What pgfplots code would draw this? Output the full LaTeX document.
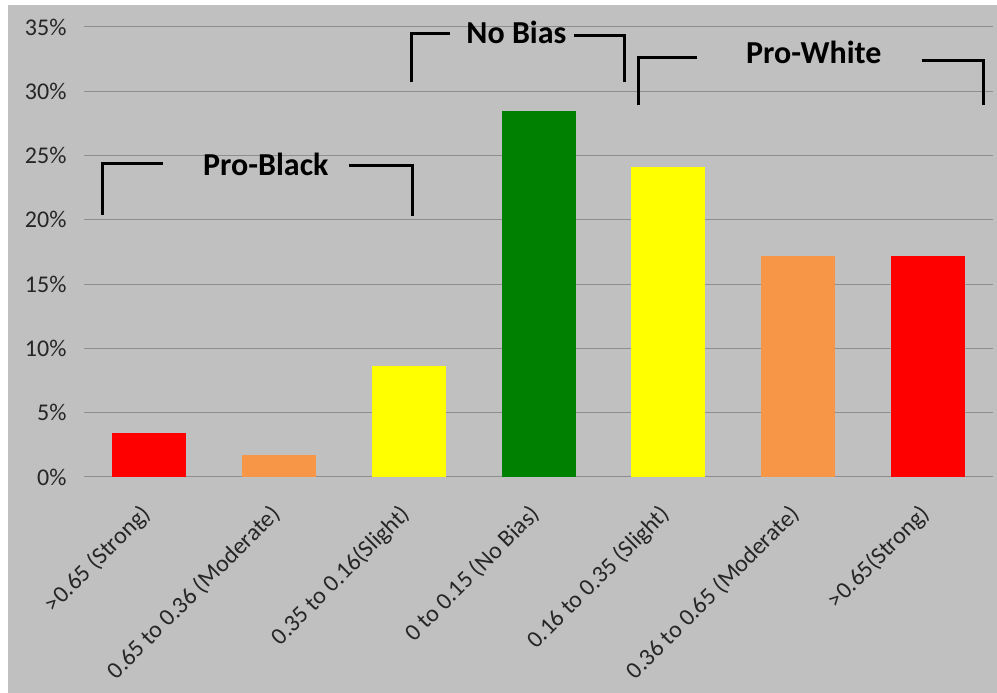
\documentclass[border=0pt]{standalone}
\usepackage{pgfplots}
\pgfplotsset{compat=1.18}
\usepackage{fontspec}
\setmainfont{Carlito}
\definecolor{panel}{HTML}{C0C0C0}
\definecolor{gridc}{HTML}{8E8E8E}
\definecolor{cred}{HTML}{FF0000}
\definecolor{corange}{HTML}{F79646}
\definecolor{cyellow}{HTML}{FFFF00}
\definecolor{cgreen}{HTML}{008000}
\begin{document}
\begin{tikzpicture}[x=1pt,y=1pt]
\fill[white] (-84,-216) rectangle (913,477);
\fill[panel] (-76,-216) rectangle (913,472);
\useasboundingbox (-84,-216) rectangle (913,477);
\begin{axis}[
  at={(0,0)}, anchor=south west,
  scale only axis, width=909pt, height=450pt,
  xmin=-0.5, xmax=6.5, ymin=0, ymax=35,
  axis line style={draw=none},
  major tick length=0pt,
  ymajorgrids, grid style={color=gridc, line width=1pt},
  ytick={0,5,...,35},
  yticklabel={\pgfmathprintnumber{\tick}\%},
  /pgf/number format/assume math mode=true,
  yticklabel style={font=\fontsize{24}{28}\selectfont, xshift=-14pt, text=black!85},
  xtick={0,...,6},
  xticklabels={{>0.65 (Strong)},{0.65 to 0.36 (Moderate)},{0.35 to 0.16(Slight)},{0 to 0.15 (No Bias)},{0.16 to 0.35 (Slight)},{0.36 to 0.65 (Moderate)},{>0.65(Strong)}},
  xticklabel style={font=\fontsize{24}{28}\selectfont, xshift=-10pt, yshift=-21pt, rotate=45, anchor=north east, text=black!85},
  clip=false,
  ybar, bar width=74pt,
]
\addplot[fill=cred, draw=none, bar shift=0pt] coordinates {(0,3.4)};
\addplot[fill=corange, draw=none, bar shift=0pt] coordinates {(1,1.7)};
\addplot[fill=cyellow, draw=none, bar shift=0pt] coordinates {(2,8.6)};
\addplot[fill=cgreen, draw=none, bar shift=0pt] coordinates {(3,28.5)};
\addplot[fill=cyellow, draw=none, bar shift=0pt] coordinates {(4,24.1)};
\addplot[fill=corange, draw=none, bar shift=0pt] coordinates {(5,17.2)};
\addplot[fill=cred, draw=none, bar shift=0pt] coordinates {(6,17.2)};
% annotations
\draw[line width=3pt] (axis cs:-0.357,20.4) -- (axis cs:-0.357,24.4) -- (axis cs:0.11,24.4);
\draw[line width=3pt] (axis cs:1.54,24.2) -- (axis cs:2.03,24.2) -- (axis cs:2.03,20.3);
\node[font=\fontsize{32}{36}\selectfont\bfseries] at (axis cs:0.90,24.3) {Pro-Black};
\draw[line width=3pt] (axis cs:2.02,30.7) -- (axis cs:2.02,34.5) -- (axis cs:2.32,34.5);
\draw[line width=3pt] (axis cs:3.27,34.3) -- (axis cs:3.66,34.3) -- (axis cs:3.66,30.7);
\node[font=\fontsize{32}{36}\selectfont\bfseries] at (axis cs:2.83,34.6) {No Bias};
\draw[line width=3pt] (axis cs:3.77,28.9) -- (axis cs:3.77,32.6) -- (axis cs:4.22,32.6);
\draw[line width=3pt] (axis cs:5.95,32.4) -- (axis cs:6.43,32.4) -- (axis cs:6.43,28.9);
\node[font=\fontsize{32}{36}\selectfont\bfseries] at (axis cs:5.12,33.0) {Pro-White};
\end{axis}
\end{tikzpicture}
\end{document}
